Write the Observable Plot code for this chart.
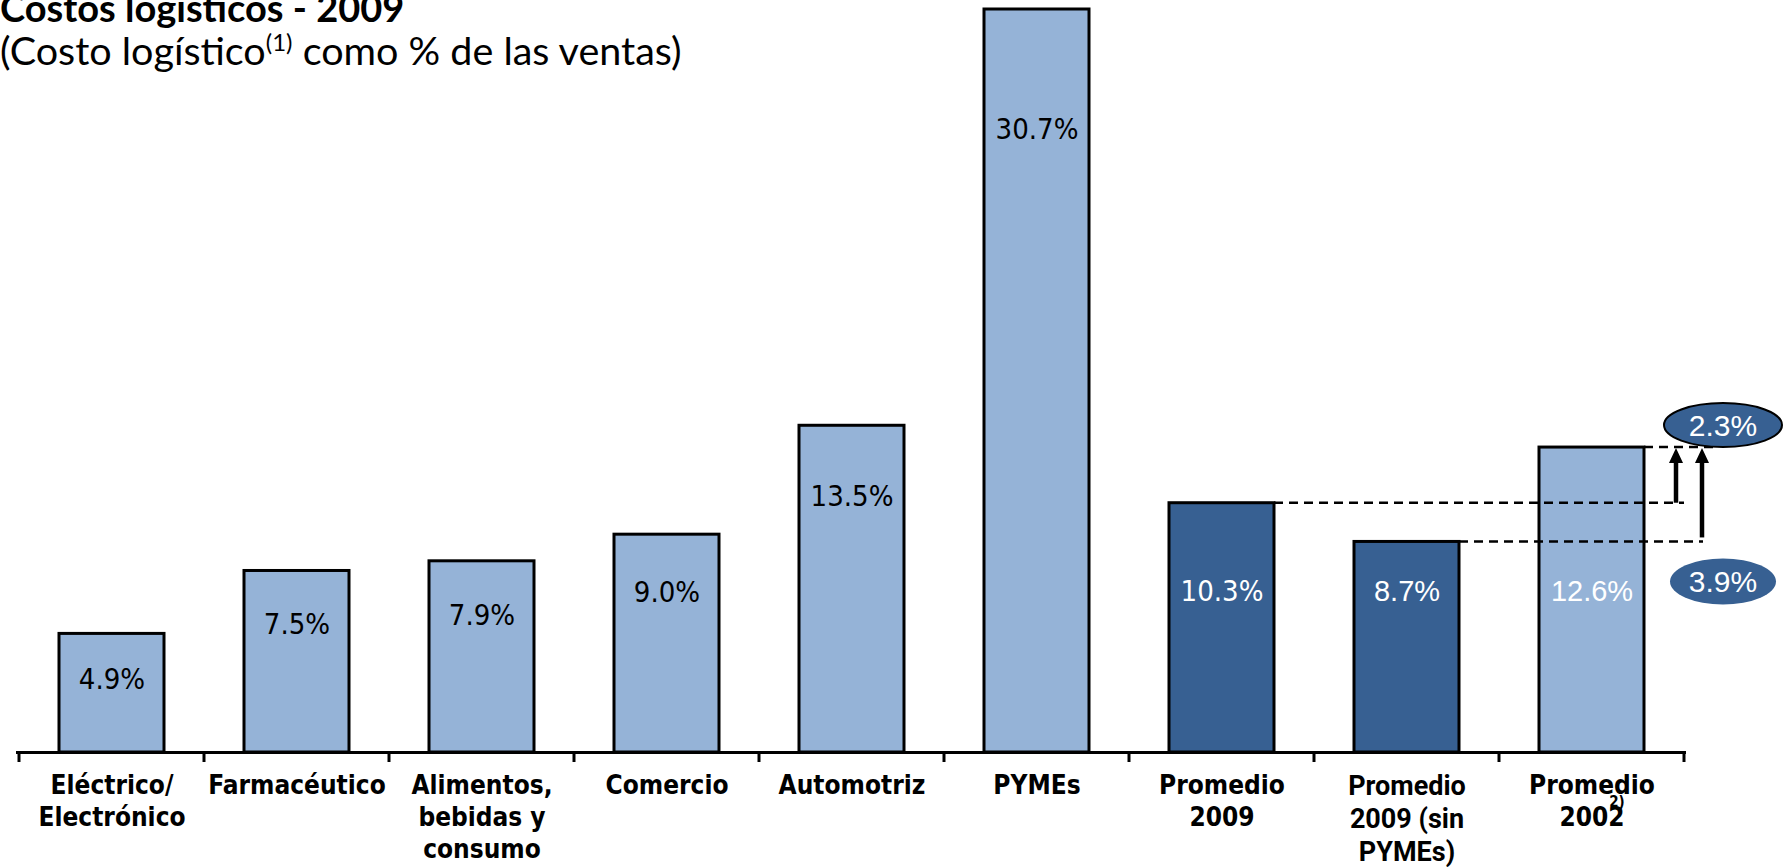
<!DOCTYPE html>
<html><head><meta charset="utf-8">
<script src="https://cdn.jsdelivr.net/npm/d3@7"></script>
<script src="https://cdn.jsdelivr.net/npm/@observablehq/plot@0.6"></script>
<style>
html,body{margin:0;padding:0;background:#fff;}
body{width:1786px;height:867px;overflow:hidden;position:relative;}
#chart{position:absolute;left:0;top:0;}
#title{position:absolute;left:0;top:-13px;font:bold 38px Lato, sans-serif;line-height:40px;color:#000;white-space:nowrap;}
#subtitle{position:absolute;left:0;top:30px;font:39.5px Lato, sans-serif;line-height:40px;color:#000;white-space:nowrap;}
#subtitle sup{font-size:24px;vertical-align:0;position:relative;top:-14px;}
</style></head><body>
<div id="chart"></div>
<div id="title">Costos logísticos - 2009</div>
<div id="subtitle">(Costo logístico<sup>(1)</sup> como % de las ventas)</div>
<script>
// ---- data ----
const categories = ["Eléctrico/\nElectrónico", "Farmacéutico", "Alimentos,\nbebidas y\nconsumo", "Comercio", "Automotriz", "PYMEs", "Promedio\n2009", "Promedio\n2009 (sin\nPYMEs)", "Promedio\n2002"];
const values = [4.9, 7.5, 7.9, 9.0, 13.5, 30.7, 10.3, 8.7, 12.6];
const groups = ["sector", "sector", "sector", "sector", "sector", "sector", "promedio2009", "promedio2009", "promedio2002"];
const footnote2002 = "2)";

const data = categories.map((c, i) => ({cat: c, value: values[i], group: groups[i]}));
const fmt = v => v.toFixed(1) + "%";
const sectors = data.filter(d => d.group === "sector");
const arialLabel = categories[7];
const tahomaAvg = data.filter((d, i) => i === 6);
const arialAvg = data.filter((d, i) => i >= 7);

const W = 1786, H = 867;
const axisLabel = {x: "cat", frameAnchor: "bottom", dy: 19, lineAnchor: "top", text: "cat", fontSize: 26, fontWeight: "bold", lineHeight: 1.23, fill: "black"};
const chart = Plot.plot({
  width: W, height: H,
  marginLeft: 16, marginRight: 100, marginTop: 9, marginBottom: 115,
  x: {domain: categories, paddingInner: 0.434, paddingOuter: 0.217, axis: null},
  y: {domain: [0, 30.7], axis: null},
  color: {domain: ["sector", "promedio2009", "promedio2002"], range: ["#95B3D7", "#376092", "#95B3D7"]},
  style: {background: "white", overflow: "visible"},
  marks: [
    Plot.barY(data, {x: "cat", y: "value", fill: "group", stroke: "black", strokeWidth: 3}),
    Plot.ruleY([0], {stroke: "black", strokeWidth: 3}),
    Plot.text(sectors, {x: "cat", y: d => d.value * 0.88 - 1.3, text: d => fmt(d.value), fontSize: 29, fontFamily: "DejaVu Sans Condensed", fill: "black"}),
    Plot.text(tahomaAvg, {x: "cat", frameAnchor: "bottom", dy: -152, text: d => fmt(d.value), fontSize: 29, fontFamily: "DejaVu Sans Condensed", fill: "white"}),
    Plot.text(arialAvg, {x: "cat", frameAnchor: "bottom", dy: -152, text: d => fmt(d.value), fontSize: 29, fontFamily: "Liberation Sans", fill: "white"}),
    Plot.text(data.filter(d => d.cat !== arialLabel), {...axisLabel, fontFamily: "DejaVu Sans Condensed"}),
    Plot.text(data.filter(d => d.cat === arialLabel), {...axisLabel, fontFamily: "Roboto", fontSize: 27}),
    Plot.text([categories[8]], {x: d => d, frameAnchor: "bottom", dy: 54, dx: 25, text: () => footnote2002, fontSize: 15, fontWeight: "bold", fontFamily: "DejaVu Sans Condensed", fill: "black"})
  ]
});
document.getElementById("chart").appendChild(chart);

// ---- annotations via the plot's own scales ----
const xs = chart.scale("x"), ys = chart.scale("y");
const bw = xs.bandwidth, step = xs.step;
const svg = d3.select(chart);
const g = svg.append("g");
const left0 = xs.apply(categories[0]) - (step - bw) / 2;
const y0 = ys.apply(0);
// tick marks at category boundaries
for (let k = 0; k <= categories.length; k++) {
  const xx = left0 + k * step;
  g.append("line").attr("x1", xx).attr("x2", xx).attr("y1", y0).attr("y2", y0 + 10).attr("stroke", "black").attr("stroke-width", 3);
}
const rightEdge = i => xs.apply(categories[i]) + bw;
const r8 = rightEdge(8);
const yTop = ys.apply(values[8]), yA = ys.apply(values[6]), yB = ys.apply(values[7]);
const dash = (x1, x2, yy) => g.append("line").attr("x1", x1).attr("x2", x2).attr("y1", yy).attr("y2", yy)
  .attr("stroke", "black").attr("stroke-width", 2.5).attr("stroke-dasharray", "9,6");
dash(rightEdge(6), r8 + 40, yA);
dash(rightEdge(7), r8 + 59, yB);
dash(r8, r8 + 75, yTop);
const arrow = (xx, yFrom, yTo) => {
  g.append("line").attr("x1", xx).attr("x2", xx).attr("y1", yFrom).attr("y2", yTo + 12).attr("stroke", "black").attr("stroke-width", 4.5);
  g.append("polygon").attr("points", `${xx - 7},${yTo + 15} ${xx + 7},${yTo + 15} ${xx},${yTo}`).attr("fill", "black");
};
arrow(r8 + 32, yA, yTop + 1);
arrow(r8 + 58, yB - 4, yTop + 1);
const bubble = (cx, cy, rx, ry, label, outline) => {
  g.append("ellipse").attr("cx", cx).attr("cy", cy).attr("rx", rx).attr("ry", ry)
    .attr("fill", "#376092").attr("stroke", outline ? "black" : "none").attr("stroke-width", 2);
  g.append("text").attr("x", cx).attr("y", cy).attr("dy", "0.36em").attr("text-anchor", "middle")
    .attr("fill", "white").attr("font-family", "Liberation Sans").attr("font-size", 30).text(label);
};
bubble(r8 + 79, yTop - 22, 59, 22, fmt(values[8] - values[6]), true);
bubble(r8 + 79, yB + 40, 53, 23, fmt(values[8] - values[7]), false);
</script>
</body></html>
